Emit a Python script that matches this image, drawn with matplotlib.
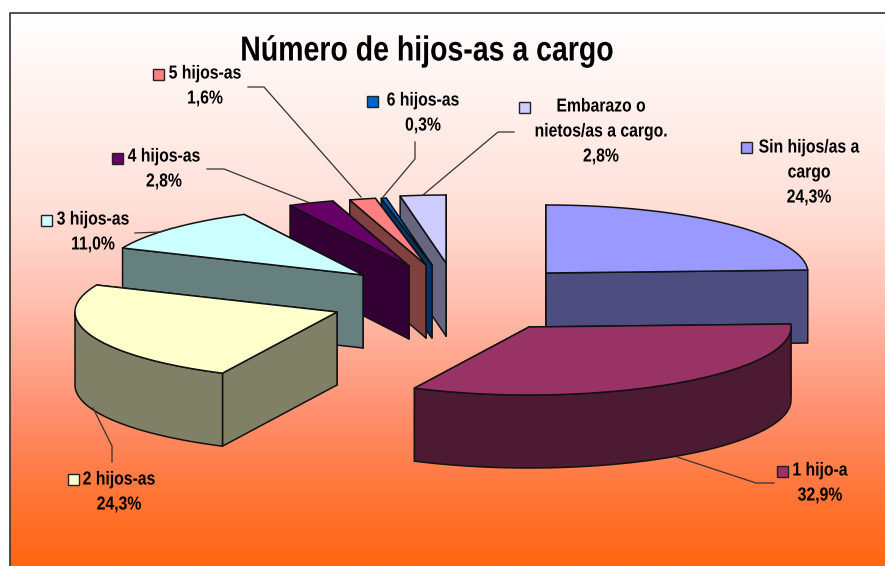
import numpy as np
import matplotlib
matplotlib.use("Agg")
import matplotlib.pyplot as plt
from matplotlib.patches import Polygon, Rectangle
from matplotlib.colors import to_rgb, LinearSegmentedColormap
from matplotlib.patheffects import AbstractPathEffect
from matplotlib.transforms import Affine2D

title = "Número de hijos-as a cargo"
categories = ["Sin hijos/as a\ncargo", "1 hijo-a", "2 hijos-as", "3 hijos-as",
              "4 hijos-as", "5 hijos-as", "6 hijos-as", "Embarazo o\nnietos/as a cargo."]
values = [24.3, 32.9, 24.3, 11.0, 2.8, 1.6, 0.3, 2.8]
colors = ["#9999FF", "#993366", "#FFFFCC", "#CCFFFF", "#660066", "#FF8080", "#0066CC", "#CCCCFF"]

# exploded slice centres, pixels
centres = [(546, 273), (529, 327), (337, 312), (363, 275), (409, 266), (426, 265), (432, 265), (446, 263)]
RX, RY, DEPTH = 262, 68, 73

# legend key (x, y), and text centre lines per slice
keys = [(741, 142), (777, 466), (68, 474), (41, 215), (112, 153), (153, 69), (367, 96), (519, 102)]
text_x = [809, 820, 119, 93, 164, 205, 423, 601]
text_y = [148, 471, 480, 220, 157, 74, 101, 107]
line_gap = 25

leaders = [None,
           [(774, 483), (756, 483), (677, 457)],
           [(112, 462), (112, 446), (93, 408)],
           [(135, 233), (160, 232), (172, 228)],
           [(207, 169), (224, 169), (310, 203)],
           [(248, 87), (264, 87), (361, 197)],
           [(415, 142), (415, 159), (383, 197)],
           [(514, 132), (498, 132), (423, 195)]]

W, H = 885, 566
FONT = ["Liberation Sans", "DejaVu Sans"]


class Narrow(AbstractPathEffect):
    """Condense a text horizontally around its centre (narrow face in the source)."""

    def __init__(self, cx, factor):
        super().__init__()
        self.cx, self.factor = cx, factor

    def draw_path(self, renderer, gc, tpath, affine, rgbFace=None):
        squeeze = Affine2D().translate(-self.cx, 0).scale(self.factor, 1).translate(self.cx, 0)
        renderer.draw_path(gc, tpath, affine + squeeze, rgbFace)


fig = plt.figure(figsize=(W / 100, H / 100), dpi=100, facecolor="white")
ax = fig.add_axes([0, 0, 1, 1])
ax.axis("off")

cmap = LinearSegmentedColormap.from_list("bg", [(0, "#FFFFFF"), (0.35, "#FFE0D8"), (0.52, "#FFC0B0"),
                                                (0.72, "#FF9070"), (0.88, "#FF7434"), (1, "#FF6610")])
ax.imshow(np.linspace(0, 1, 256)[:, None], cmap=cmap, extent=(10, W, H, 13), aspect="auto", zorder=0)
ax.set_xlim(0, W)
ax.set_ylim(H, 0)
ax.plot([9.5, 9.5, W], [H, 12.5, 12.5], color="#333333", lw=1.2, zorder=1)


def point(c, deg):
    a = np.radians(deg)
    return c[0] + RX * np.sin(a), c[1] - RY * np.cos(a)


def dark(col):
    return tuple(v * 0.5 for v in to_rgb(col))


edges = np.concatenate([[0], np.cumsum(values) / np.sum(values) * 360])
order = [7, 6, 5, 4, 3, 2, 0, 1]
z = 2
for i in order:
    c = centres[i]
    a0, a1 = edges[i], edges[i + 1]
    col = colors[i]
    side = dark(col)
    faces = []
    for a in (a0, a1):
        p = point(c, a)
        faces.append([c, p, (p[0], p[1] + DEPTH), (c[0], c[1] + DEPTH)])
    faces.sort(key=lambda f: sum(q[1] for q in f))
    lo, hi = max(a0, 90), min(a1, 270)
    if hi > lo:
        arc = [point(c, a) for a in np.linspace(lo, hi, 80)]
        faces.append(arc + [(x, y + DEPTH) for x, y in arc[::-1]])
    for f in faces:
        ax.add_patch(Polygon(f, closed=True, fc=side, ec="#111111", lw=1.1, zorder=z, joinstyle="round"))
        z += 1
    top = [c] + [point(c, a) for a in np.linspace(a0, a1, 80)]
    ax.add_patch(Polygon(top, closed=True, fc=col, ec="#111111", lw=1.1, zorder=z, joinstyle="round"))
    z += 1

z += 1
for i, name in enumerate(categories):
    ax.add_patch(Rectangle(keys[i], 11, 11, fc=colors[i], ec="#222222", lw=1.0, zorder=z))
    if leaders[i]:
        xs, ys = zip(*leaders[i])
        ax.plot(xs, ys, color="#333333", lw=0.9, zorder=z)
    lines = name.split("\n") + [f"{values[i]:.1f}%".replace(".", ",")]
    for k, t in enumerate(lines):
        ax.text(text_x[i], text_y[i] + k * line_gap, t, ha="center", va="center", family=FONT,
                weight="bold", fontsize=13.5, color="#000000", zorder=z,
                path_effects=[Narrow(text_x[i], 0.84)])

ax.text(427, 51, title, ha="center", va="center", family=FONT, weight="bold", fontsize=25,
        color="#000000", zorder=z, path_effects=[Narrow(427, 0.82)])

fig.savefig("out.png", dpi=100)
